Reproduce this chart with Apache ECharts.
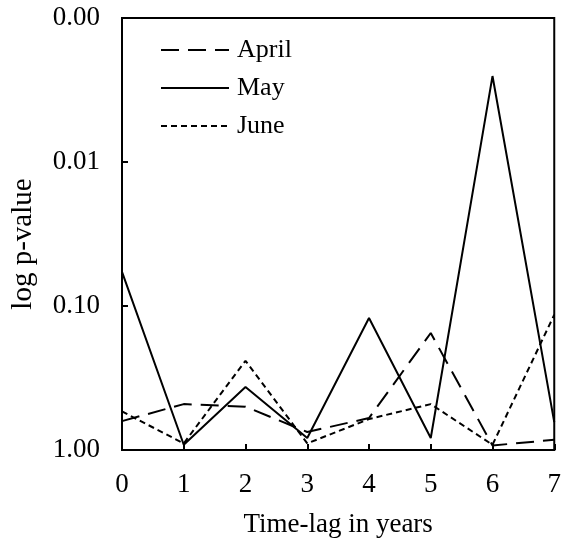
<!DOCTYPE html>
<html>
<head>
<meta charset="utf-8">
<script src="https://cdn.jsdelivr.net/npm/echarts@6/dist/echarts.min.js"></script>
<style>
  html, body { margin: 0; padding: 0; background: #fff; }
  #chart { width: 564px; height: 543px; }
</style>
</head>
<body>
<div id="chart"></div>
<script>
const lags = [0, 1, 2, 3, 4, 5, 6, 7];
const april = [0.63, 0.48, 0.50, 0.75, 0.60, 0.154, 0.93, 0.85];
const may = [0.058, 0.92, 0.365, 0.825, 0.121, 0.825, 0.00253, 0.64];
const june = [0.54, 0.90, 0.24, 0.90, 0.61, 0.48, 0.92, 0.115];

const font = '"Liberation Serif", "Times New Roman", serif';

const pairs = (vals) => lags.map((x, i) => [x, vals[i]]);

const mkSeries = (name, vals, dash) => ({
    name: name,
    type: 'line',
    data: pairs(vals),
    showSymbol: false,
    symbol: 'none',
    lineStyle: { color: '#000', width: 2, type: dash },
    itemStyle: { color: '#000' },
});

const myChart = echarts.init(document.getElementById('chart'));

const option = {
    animation: false,
    backgroundColor: '#fff',
    grid: {
        left: 122, top: 18, right: 4, bottom: 93,
        show: true, borderColor: '#000', borderWidth: 2,
    },
    legend: {
        orient: 'vertical',
        left: 155,
        top: 32,
        itemWidth: 68,
        itemHeight: 14,
        itemGap: 12,
        itemStyle: { opacity: 0 },
        textStyle: { fontFamily: font, fontSize: 26, color: '#000', padding: [0, 0, 0, 3] },
        data: ['April', 'May', 'June'],
    },
    xAxis: {
        type: 'value',
        min: 0, max: 7, interval: 1,
        name: 'Time-lag in years',
        nameLocation: 'middle',
        nameGap: 61,
        nameTextStyle: { fontFamily: font, fontSize: 27, color: '#000' },
        axisLine: { lineStyle: { color: '#000', width: 2 } },
        axisTick: { inside: true, length: 6, lineStyle: { color: '#000', width: 2 } },
        axisLabel: { fontFamily: font, fontSize: 27, color: '#000', margin: 21 },
        splitLine: { show: false },
    },
    yAxis: {
        type: 'log',
        logBase: 10,
        min: 0.001, max: 1,
        inverse: true,
        name: 'log p-value',
        nameLocation: 'middle',
        nameGap: 84,
        nameTextStyle: { fontFamily: font, fontSize: 29, color: '#000', padding: [0, 20, 0, 0] },
        axisLine: { lineStyle: { color: '#000', width: 2 } },
        axisTick: { inside: true, length: 6, lineStyle: { color: '#000', width: 2 } },
        axisLabel: {
            fontFamily: font, fontSize: 27, color: '#000', margin: 22,
            formatter: (v) => v.toFixed(2),
        },
        splitLine: { show: false },
    },
    series: [
        mkSeries('April', april, [18, 9]),
        mkSeries('May', may, 'solid'),
        mkSeries('June', june, [6, 4]),
    ],
};

myChart.setOption(option);
</script>
</body>
</html>
